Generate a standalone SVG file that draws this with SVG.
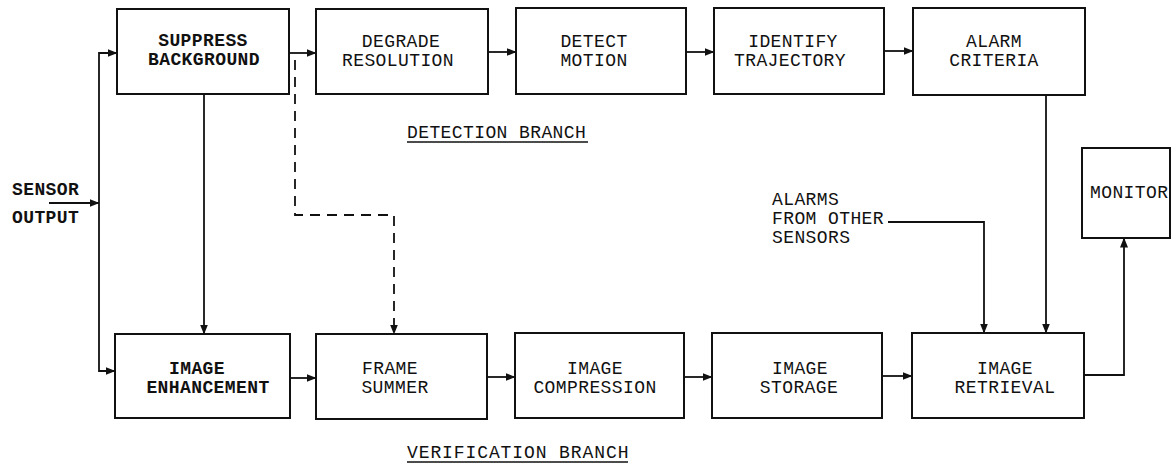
<svg xmlns="http://www.w3.org/2000/svg" width="1172" height="466" viewBox="0 0 1172 466">
<style>
.box{fill:#fff;stroke:#111;stroke-width:2}
.t{font-family:"Liberation Mono",monospace;font-size:18px;letter-spacing:0.4px;fill:#111;text-anchor:middle}
.tb{font-family:"Liberation Mono",monospace;font-size:18px;font-weight:bold;letter-spacing:0.4px;fill:#111;text-anchor:middle}
.l{font-family:"Liberation Mono",monospace;font-size:18px;letter-spacing:0.4px;fill:#111}
.lb{font-family:"Liberation Mono",monospace;font-size:18px;font-weight:bold;letter-spacing:0.4px;fill:#111}
.c{fill:none;stroke:#111;stroke-width:1.8}
.a{marker-end:url(#ah)}
.d{stroke-dasharray:10 7}
.u{stroke:#111;stroke-width:1.6}
</style>
<defs>
<marker id="ah" markerUnits="userSpaceOnUse" markerWidth="10" markerHeight="10" viewBox="0 0 10 10" refX="9.5" refY="5" orient="auto">
<path d="M0,1 L10,5 L0,9 Z" fill="#111"/>
</marker>
</defs>
<rect width="1172" height="466" fill="#fff"/>
<g id="connectors">
<path class="c a" d="M49,203 H99"/>
<path class="c a" d="M99,203 V53 H117"/>
<path class="c a" d="M99,203 V371 H115"/>
<path class="c a" d="M289,53 H316"/>
<path class="c a" d="M488,52 H516"/>
<path class="c a" d="M686,52 H714"/>
<path class="c a" d="M884,51 H913"/>
<path class="c a" d="M204,94 V334"/>
<path class="c a d" d="M295,60 V215 H394 V334"/>
<path class="c a" d="M1046,95 V333"/>
<path class="c a" d="M888,222 H984 V333"/>
<path class="c a" d="M290,378 H316"/>
<path class="c a" d="M487,377 H515"/>
<path class="c a" d="M684,377 H712"/>
<path class="c a" d="M882,376 H912"/>
<path class="c a" d="M1084,375 H1124 V238"/>
</g>
<g id="n1"><rect class="box" x="117" y="9" width="172" height="85"/><text class="tb" x="203" y="46">SUPPRESS</text><text class="tb" x="204" y="65">BACKGROUND</text></g>
<g id="n2"><rect class="box" x="316" y="9" width="172" height="85"/><text class="t" x="401" y="47">DEGRADE</text><text class="t" x="398" y="66">RESOLUTION</text></g>
<g id="n3"><rect class="box" x="516" y="8" width="170" height="86"/><text class="t" x="594" y="47">DETECT</text><text class="t" x="594" y="66">MOTION</text></g>
<g id="n4"><rect class="box" x="714" y="8" width="170" height="86"/><text class="t" x="793" y="47">IDENTIFY</text><text class="t" x="790" y="66">TRAJECTORY</text></g>
<g id="n5"><rect class="box" x="913" y="8" width="172" height="87"/><text class="t" x="994" y="47">ALARM</text><text class="t" x="994" y="66">CRITERIA</text></g>
<g id="n6"><rect class="box" x="115" y="334" width="175" height="84"/><text class="tb" x="197" y="374">IMAGE</text><text class="tb" x="208" y="393">ENHANCEMENT</text></g>
<g id="n7"><rect class="box" x="316" y="334" width="171" height="85"/><text class="t" x="390" y="374">FRAME</text><text class="t" x="395" y="393">SUMMER</text></g>
<g id="n8"><rect class="box" x="515" y="333" width="169" height="85"/><text class="t" x="595" y="374">IMAGE</text><text class="t" x="595" y="393">COMPRESSION</text></g>
<g id="n9"><rect class="box" x="712" y="333" width="170" height="85"/><text class="t" x="800" y="374">IMAGE</text><text class="t" x="799" y="393">STORAGE</text></g>
<g id="n10"><rect class="box" x="912" y="333" width="172" height="85"/><text class="t" x="1005" y="374">IMAGE</text><text class="t" x="1005" y="393">RETRIEVAL</text></g>
<g id="n11"><rect class="box" x="1082" y="148" width="88" height="90"/><text class="l" x="1090" y="198">MONITOR</text></g>
<g id="labels">
<text class="lb" x="12" y="195">SENSOR</text>
<text class="lb" x="12" y="223">OUTPUT</text>
<text class="l" x="772" y="205">ALARMS</text>
<text class="l" x="772" y="224">FROM OTHER</text>
<text class="l" x="772" y="243">SENSORS</text>
<text class="l" x="407" y="138">DETECTION BRANCH</text>
<line class="u" x1="407" y1="142" x2="588" y2="142"/>
<text class="l" x="407" y="458" style="letter-spacing:0.9px">VERIFICATION BRANCH</text>
<line class="u" x1="407" y1="462" x2="628" y2="462"/>
</g>
</svg>
